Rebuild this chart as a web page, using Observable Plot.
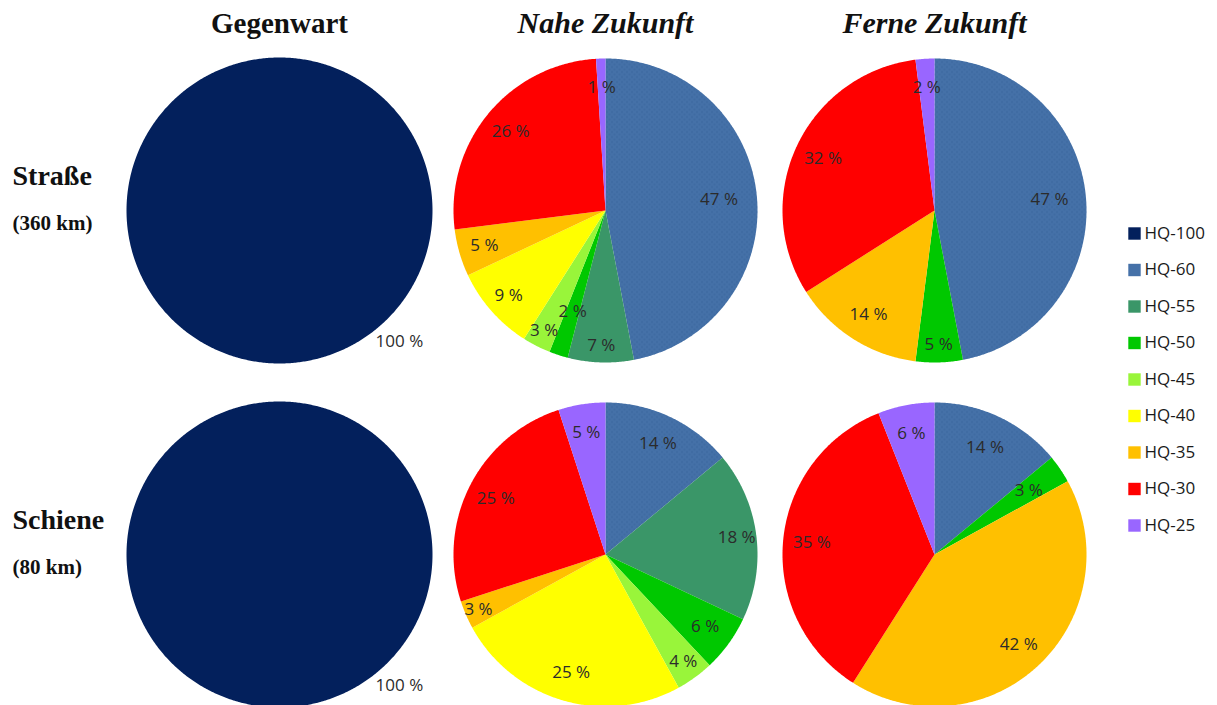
<!DOCTYPE html>
<html>
<head>
<meta charset="utf-8">
<script src="https://cdn.jsdelivr.net/npm/d3@7"></script>
<script src="https://cdn.jsdelivr.net/npm/@observablehq/plot@0.6"></script>
<style>
  body { margin: 0; background: #fff; }
  #chart { width: 1217px; height: 705px; }
</style>
</head>
<body>
<div id="chart"></div>
<script>
// Hochwasser-Bemessungsklassen (legend order)
const classes = ["HQ-100", "HQ-60", "HQ-55", "HQ-50", "HQ-45", "HQ-40", "HQ-35", "HQ-30", "HQ-25"];
const classColors = ["#03205c", "#4571a8", "#3a9668", "#00c800", "#99f53a", "#ffff00", "#ffc000", "#ff0000", "#9966ff"];

const periods = ["Gegenwart", "Nahe Zukunft", "Ferne Zukunft"];
const networks = ["Straße", "Schiene"];
const networkLengths = ["(360 km)", "(80 km)"];

// Share of network length per class, in %, in legend order
const strasseGegenwart = [100, 0, 0, 0, 0, 0, 0, 0, 0];
const strasseNahe      = [0, 47, 7, 2, 3, 9, 5, 26, 1];
const strasseFerne     = [0, 47, 0, 5, 0, 0, 14, 32, 2];
const schieneGegenwart = [100, 0, 0, 0, 0, 0, 0, 0, 0];
const schieneNahe      = [0, 14, 18, 6, 4, 25, 3, 25, 5];
const schieneFerne     = [0, 14, 0, 3, 0, 0, 42, 35, 6];

const panelValues = [
  [strasseGegenwart, strasseNahe, strasseFerne],
  [schieneGegenwart, schieneNahe, schieneFerne]
];

// ---- layout (pixels) ----
const W = 1217, H = 705;
const colX = [279, 605, 934];
const rowY = [210, 554];
const radius = [153, 152, 152];
const labelRadius = 0.81;               // label distance from centre, as share of radius
const labelRadiusFor = {                // "best fit" distances for crowded slices
  "0-1-HQ-60": 0.75, "0-1-HQ-55": 0.89, "0-1-HQ-50": 0.70, "0-1-HQ-45": 0.89,
  "0-1-HQ-40": 0.85, "0-1-HQ-35": 0.83,
  "0-2-HQ-60": 0.76, "0-2-HQ-50": 0.88,
  "1-1-HQ-55": 0.87, "1-1-HQ-45": 0.87, "1-1-HQ-35": 0.91,
  "1-2-HQ-50": 0.75, "1-2-HQ-60": 0.78
};
const fullLabel = {angle: 137.5, radius: 1.16}; // single 100 % slice label
const legendX = 1134, legendY0 = 233, legendStep = 36.5;

// ---- build slice polygons and labels from the shares ----
const slicePoints = [];
const sliceLabels = [];
const deg = Math.PI / 180;
panelValues.forEach((row, ri) => {
  row.forEach((values, ci) => {
    const cx = colX[ci], cy = rowY[ri], r = radius[ci];
    const total = d3.sum(values);
    let cum = 0;
    values.forEach((v, k) => {
      if (!v) return;
      const a0 = cum / total * 360, a1 = (cum + v) / total * 360;
      cum += v;
      const cls = classes[k];
      const id = `${ri}-${ci}-${cls}`;
      slicePoints.push({id, cls, x: cx, y: cy});
      const n = Math.max(2, Math.ceil((a1 - a0) / 0.5));
      for (let i = 0; i <= n; i++) {
        const a = (a0 + (a1 - a0) * i / n) * deg;
        slicePoints.push({id, cls, x: cx + r * Math.sin(a), y: cy - r * Math.cos(a)});
      }
      const full = v === total;
      const am = (full ? fullLabel.angle : (a0 + a1) / 2) * deg;
      const lr = (full ? fullLabel.radius : (labelRadiusFor[id] ?? labelRadius)) * r;
      sliceLabels.push({text: `${v} %`, x: cx + lr * Math.sin(am), y: cy - lr * Math.cos(am)});
    });
  });
});

const headers = periods.map((p, i) => ({text: p, x: colX[i], italic: i > 0}));
const rowLabels = networks.map((n, i) => ({text: n, sub: networkLengths[i], y: rowY[i]}));
const legendItems = classes.map((c, i) => ({cls: c, y: legendY0 + i * legendStep}));

const serif = "'Liberation Serif', 'Times New Roman', serif";
const sans = "'Open Sans', 'DejaVu Sans', sans-serif";

const chart = Plot.plot({
  width: W,
  height: H,
  margin: 0,
  x: {domain: [0, W], range: [0, W], axis: null},
  y: {domain: [0, H], range: [0, H], axis: null},
  color: {domain: classes, range: classColors},
  style: {background: "#fff", overflow: "visible"},
  marks: [
    // pie slices
    Plot.line(slicePoints, {x: "x", y: "y", z: "id", fill: "cls", stroke: null}),
    // stippled texture on HQ-60 slices
    Plot.line(slicePoints.filter((d) => d.cls === "HQ-60"), {x: "x", y: "y", z: "id", fill: "url(#stipple)", stroke: null}),
    // percentage labels
    Plot.text(sliceLabels, {x: "x", y: "y", text: "text", fill: "#2b2b2b", fontFamily: sans, fontSize: 17}),
    // column headers
    Plot.text(headers.filter((d) => !d.italic), {x: "x", y: () => 32, text: "text", lineAnchor: "bottom", fontFamily: serif, fontWeight: "bold", fontSize: 29, fill: "#111"}),
    Plot.text(headers.filter((d) => d.italic), {x: "x", y: () => 32, text: "text", lineAnchor: "bottom", fontFamily: serif, fontWeight: "bold", fontStyle: "italic", fontSize: 30, fill: "#111"}),
    // row labels
    Plot.text(rowLabels, {x: () => 12, y: (d) => d.y - 26, text: "text", textAnchor: "start", lineAnchor: "bottom", fontFamily: serif, fontWeight: "bold", fontSize: 28, fill: "#111"}),
    Plot.text(rowLabels, {x: () => 12, y: (d) => d.y + 19, text: "sub", textAnchor: "start", lineAnchor: "bottom", fontFamily: serif, fontWeight: "bold", fontSize: 21, fill: "#111"}),
    // legend
    Plot.dot(legendItems, {x: () => legendX, y: "y", fill: "cls", symbol: "square", r: 7}),
    Plot.text(legendItems, {x: () => legendX + 10, y: "y", text: "cls", textAnchor: "start", fontFamily: sans, fontSize: 17, fill: "#1a1a1a"})
  ]
});

// dot texture used by the HQ-60 slices
const defs = d3.select(chart).insert("defs", ":first-child");
const pat = defs.append("pattern")
  .attr("id", "stipple").attr("patternUnits", "userSpaceOnUse")
  .attr("width", 5).attr("height", 5);
pat.append("circle").attr("cx", 1.5).attr("cy", 1.5).attr("r", 0.7).attr("fill", "#2e5a92").attr("fill-opacity", 0.7);
pat.append("circle").attr("cx", 4).attr("cy", 4).attr("r", 0.7).attr("fill", "#2e5a92").attr("fill-opacity", 0.7);

document.getElementById("chart").append(chart);
</script>
</body>
</html>
